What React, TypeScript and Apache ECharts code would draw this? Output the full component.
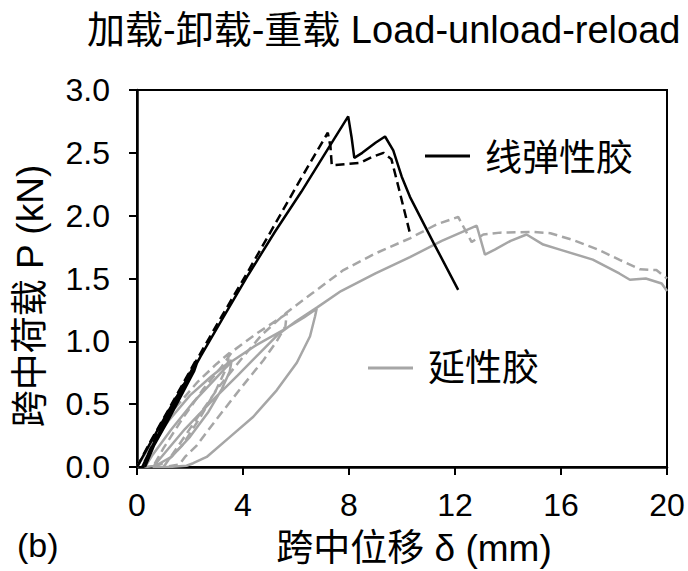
import React, { useEffect, useRef } from "react";
import * as echarts from "echarts";

const FONT = '"Liberation Sans", Arial, "Noto Sans CJK SC", sans-serif';

const titleText = "加载-卸载-重载 Load-unload-reload";
const xAxisName = "跨中位移 δ (mm)";
const yAxisName = "跨中荷载 P (kN)";
const panelLabel = "(b)";
const legendNames = ["线弹性胶", "延性胶"];

const xTicks = { min: 0, max: 20, interval: 4 };
const yTicks = { min: 0, max: 3, interval: 0.5 };

// 线弹性胶 — solid (displacement mm, load kN)
const linearSolid: number[][] = [
  [0, 0], [0.5, 0.19], [1.2, 0.45], [2.3, 0.85], [2.15, 0.76], [1.2, 0.38], [0.4, 0.08], [0.3, 0],
  [0.9, 0.3], [1.8, 0.65], [2.4, 0.88], [3.2, 1.17], [4.2, 1.53], [5.2, 1.87], [6.2, 2.19], [7.2, 2.53],
  [7.97, 2.79], [8.1, 2.62], [8.2, 2.46], [8.5, 2.5], [9.0, 2.58], [9.36, 2.63], [9.67, 2.52],
  [9.99, 2.31], [10.3, 2.15], [11.2, 1.78], [12.12, 1.41],
];

// 线弹性胶 — dashed
const linearDashed: number[][] = [
  [0, 0], [0.5, 0.2], [1.2, 0.46], [2.2, 0.84], [2.0, 0.74], [1.0, 0.34], [0.3, 0.05], [0.2, 0],
  [0.8, 0.28], [1.6, 0.6], [2.3, 0.87], [3.2, 1.2], [4.2, 1.56], [5.2, 1.93], [6.2, 2.3], [7.2, 2.66],
  [7.3, 2.55], [7.35, 2.4], [7.9, 2.41], [8.42, 2.42], [8.9, 2.47], [9.3, 2.5], [9.6, 2.45], [9.9, 2.2],
  [10.3, 1.86],
];

// 延性胶 — solid
const ductileSolid: number[][] = [
  [0, 0], [0.5, 0.17], [1.2, 0.37], [2.0, 0.57], [2.8, 0.72], [3.57, 0.85],
  [3.5, 0.76], [3.2, 0.62], [2.7, 0.44], [2.0, 0.24], [1.3, 0.08], [0.7, 0.01], [0.3, 0],
  [0.6, 0.1], [1.3, 0.3], [2.1, 0.51], [2.9, 0.69], [3.57, 0.84],
  [4.5, 0.97], [5.6, 1.1], [6.3, 1.19], [6.78, 1.26],
  [6.72, 1.2], [6.53, 1.04], [6.03, 0.83], [5.27, 0.61], [4.39, 0.4], [3.51, 0.24], [2.63, 0.08],
  [2.12, 0.03], [1.87, 0.01], [1.2, 0], [0.6, 0],
  [1.0, 0.1], [1.8, 0.3], [2.8, 0.52], [3.8, 0.73], [4.6, 0.9], [5.3, 1.05], [6.0, 1.16], [6.8, 1.27],
  [7.7, 1.4], [9.0, 1.54], [10.3, 1.67], [11.5, 1.8], [12.82, 1.92], [13.13, 1.69], [13.5, 1.73],
  [14.1, 1.8], [14.7, 1.85], [15.33, 1.77], [15.96, 1.73], [17.2, 1.65], [18.2, 1.54], [18.6, 1.49],
  [19.2, 1.5], [19.8, 1.46], [20, 1.4],
];

// 延性胶 — dashed
const ductileDashed: number[][] = [
  [0, 0], [0.6, 0.22], [1.4, 0.46], [2.3, 0.68], [3.0, 0.82], [3.5, 0.91],
  [3.4, 0.8], [3.0, 0.62], [2.4, 0.4], [1.7, 0.17], [1.1, 0.04], [0.6, 0],
  [1.0, 0.15], [1.7, 0.38], [2.5, 0.62], [3.2, 0.8], [3.6, 0.92],
  [4.5, 1.06], [5.65, 1.22],
  [5.6, 1.12], [5.27, 1.0], [4.77, 0.85], [3.89, 0.62], [3.0, 0.38], [2.25, 0.17], [1.81, 0.08],
  [1.6, 0.02], [1.0, 0],
  [1.5, 0.15], [2.3, 0.4], [3.1, 0.64], [3.9, 0.85], [4.7, 1.05], [5.65, 1.23],
  [6.6, 1.38], [7.79, 1.567], [9.0, 1.7], [10.3, 1.82], [11.3, 1.93], [12.12, 1.99], [12.63, 1.79],
  [13.07, 1.85], [13.7, 1.865], [14.95, 1.87], [15.6, 1.86], [16.46, 1.806], [17.4, 1.73],
  [18.23, 1.647], [18.98, 1.573], [19.6, 1.567], [20, 1.5],
];

const BLACK = "#000000";
const GRAY = "#a6a6a6";

export default function App() {
  const ref = useRef<HTMLDivElement>(null);
  useEffect(() => {
    if (!ref.current) return;
    const chart = echarts.init(ref.current, null, { renderer: "svg" });
    const lineSeries = (name: string, data: number[][], color: string, dashed: boolean, z: number) => ({
      name,
      type: "line",
      data,
      showSymbol: false,
      symbol: "none",
      smooth: false,
      z,
      lineStyle: { color, width: 2.5, type: dashed ? [9, 5] : "solid" },
    });
    chart.setOption({
      animation: false,
      backgroundColor: "#ffffff",
      grid: {
        left: 137,
        right: 21,
        top: 90,
        bottom: 104,
        show: true,
        borderColor: "#000",
        borderWidth: 2,
        backgroundColor: "transparent",
      },
      xAxis: {
        type: "value",
        min: xTicks.min,
        max: xTicks.max,
        interval: xTicks.interval,
        splitLine: { show: false },
        axisLine: { show: true, onZero: false, lineStyle: { color: "#000", width: 2.5 } },
        axisTick: { show: true, length: 8, lineStyle: { color: "#000", width: 2 } },
        axisLabel: { fontSize: 32, fontFamily: FONT, color: "#000", margin: 22 },
      },
      yAxis: {
        type: "value",
        min: yTicks.min,
        max: yTicks.max,
        interval: yTicks.interval,
        splitLine: { show: false },
        axisLine: { show: true, onZero: false, lineStyle: { color: "#000", width: 2.5 } },
        axisTick: { show: true, length: 8, lineStyle: { color: "#000", width: 2 } },
        axisLabel: {
          fontSize: 32,
          fontFamily: FONT,
          color: "#000",
          margin: 27,
          formatter: (v: number) => v.toFixed(1),
        },
      },
      series: [
        lineSeries("延性胶 solid", ductileSolid, GRAY, false, 2),
        lineSeries("延性胶 dashed", ductileDashed, GRAY, true, 2),
        lineSeries("线弹性胶 dashed", linearDashed, BLACK, true, 3),
        lineSeries("线弹性胶 solid", linearSolid, BLACK, false, 3),
      ],
      graphic: [
        {
          type: "text",
          x: 87,
          y: 30,
          style: { text: titleText, fontSize: 38, fontFamily: FONT, fill: "#000", align: "left", verticalAlign: "middle" },
        },
        {
          type: "text",
          x: 30,
          y: 296,
          rotation: Math.PI / 2,
          style: { text: yAxisName, fontSize: 37, fontFamily: FONT, fill: "#000", align: "center", verticalAlign: "middle" },
        },
        {
          type: "text",
          x: 414,
          y: 548,
          style: { text: xAxisName, fontSize: 37, fontFamily: FONT, fill: "#000", align: "center", verticalAlign: "middle" },
        },
        {
          type: "text",
          x: 17,
          y: 545,
          style: { text: panelLabel, fontSize: 34, fontFamily: FONT, fill: "#000", align: "left", verticalAlign: "middle" },
        },
        {
          type: "line",
          shape: { x1: 425, y1: 156, x2: 470, y2: 156 },
          style: { stroke: BLACK, lineWidth: 3 },
        },
        {
          type: "text",
          x: 485,
          y: 158,
          style: { text: legendNames[0], fontSize: 37, fontFamily: FONT, fill: "#000", align: "left", verticalAlign: "middle" },
        },
        {
          type: "line",
          shape: { x1: 368, y1: 368, x2: 413, y2: 368 },
          style: { stroke: GRAY, lineWidth: 3 },
        },
        {
          type: "text",
          x: 428,
          y: 368,
          style: { text: legendNames[1], fontSize: 37, fontFamily: FONT, fill: "#000", align: "left", verticalAlign: "middle" },
        },
      ],
    });
    return () => chart.dispose();
  }, []);
  return <div ref={ref} style={{ width: 688, height: 571, position: "absolute", left: 0, top: 0 }} />;
}
